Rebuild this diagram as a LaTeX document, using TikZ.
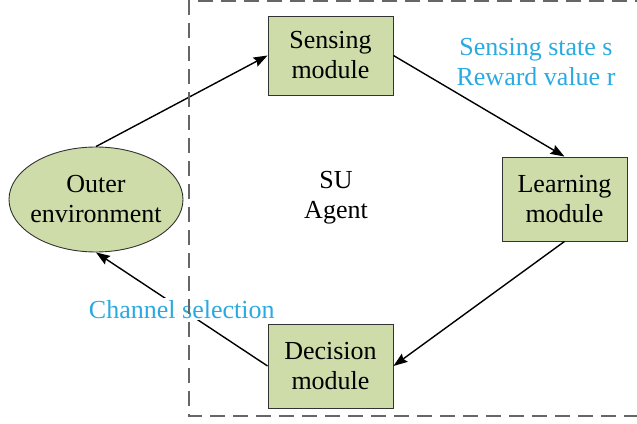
\documentclass[tikz,border=0pt]{standalone}
\usepackage{fontspec}
\setmainfont{Liberation Serif}
\usetikzlibrary{shapes}
\usetikzlibrary{arrows.meta}
\usetikzlibrary{positioning}

\definecolor{boxgreen}{RGB}{205,220,168}
\definecolor{labelblue}{RGB}{41,171,226}

\begin{document}
\begin{tikzpicture}[x=1pt, y=1pt, font=\fontsize{26}{30}\selectfont,
        module/.style={rectangle, draw=black!80, line width=0.9pt, fill=boxgreen, align=center, inner sep=0pt},
        link/.style={-{Stealth[length=14pt, width=10pt, inset=2pt]}, line width=1.4pt}]
        \useasboundingbox (0,0) rectangle (637,423);
        \node [module, minimum width=125, minimum height=79] (sense) at (330.5,367.5) {Sensing\\module};
        \node [module, minimum width=125, minimum height=84] (learn) at (564.5,224) {Learning\\module};
        \node [module, minimum width=125, minimum height=84] (decide) at (330.5,57) {Decision\\module};
        \node [ellipse, draw=black!80, line width=0.9pt, fill=boxgreen, minimum width=174, minimum height=105, inner xsep=-5pt, inner ysep=0pt, align=center] (outer) at (96,223.5) {Outer\\environment};
        \node [align=center] (agent) at (336,225) {SU\\Agent};
        \node [align=center, text=labelblue] (state) at (536,361) {Sensing state s\\Reward value r};
        \draw [link] (outer.north) -- (sense.west);
        \draw [link] (sense.east) -- (learn.north);
        \draw [link] (learn.south) -- (decide.east);
        \draw [link] (decide.west) -- node[midway, fill=white, text=labelblue, inner sep=2pt] (choice) {Channel selection} (outer.south);
        % agent boundary, open on the right
        \draw [black!60, line width=1.4pt, dash pattern=on 15pt off 8pt] (650,422) -- (189,422) -- (189,7) -- (650,7);
    \end{tikzpicture}
\end{document}
